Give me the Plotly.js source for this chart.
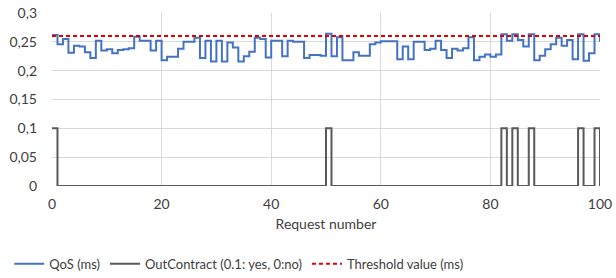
<!DOCTYPE html>
<html>
<head>
<meta charset="utf-8">
<script src="https://cdn.plot.ly/plotly-3.0.1.min.js"></script>
<style>
html,body{margin:0;padding:0;background:#fff;}
#chart{width:616px;height:278px;}
</style>
</head>
<body>
<div id="chart"></div>
<script>
// Request numbers 0..100 (value at k holds on [k, k+1])
const requests = Array.from({length: 101}, (_, i) => i);

const qos = [
  0.262, 0.246, 0.255, 0.231, 0.243, 0.242, 0.232, 0.222, 0.252, 0.235,
  0.237, 0.230, 0.236, 0.237, 0.239, 0.259, 0.252, 0.252, 0.235, 0.252,
  0.218, 0.224, 0.224, 0.238, 0.250, 0.250, 0.257, 0.222, 0.252, 0.216,
  0.252, 0.216, 0.249, 0.240, 0.216, 0.225, 0.233, 0.257, 0.255, 0.223,
  0.252, 0.252, 0.225, 0.252, 0.250, 0.250, 0.222, 0.227, 0.227, 0.226,
  0.264, 0.225, 0.258, 0.218, 0.218, 0.232, 0.226, 0.226, 0.246, 0.249,
  0.251, 0.251, 0.251, 0.220, 0.242, 0.220, 0.250, 0.250, 0.236, 0.238,
  0.252, 0.236, 0.222, 0.238, 0.235, 0.239, 0.258, 0.218, 0.224, 0.228,
  0.224, 0.228, 0.263, 0.252, 0.263, 0.253, 0.242, 0.263, 0.218, 0.226,
  0.237, 0.246, 0.257, 0.243, 0.253, 0.220, 0.263, 0.217, 0.230, 0.263,
  0.250
];

const outContract = [
  0.1, 0, 0, 0, 0, 0, 0, 0, 0, 0,
  0, 0, 0, 0, 0, 0, 0, 0, 0, 0,
  0, 0, 0, 0, 0, 0, 0, 0, 0, 0,
  0, 0, 0, 0, 0, 0, 0, 0, 0, 0,
  0, 0, 0, 0, 0, 0, 0, 0, 0, 0,
  0.1, 0, 0, 0, 0, 0, 0, 0, 0, 0,
  0, 0, 0, 0, 0, 0, 0, 0, 0, 0,
  0, 0, 0, 0, 0, 0, 0, 0, 0, 0,
  0, 0, 0.1, 0, 0.1, 0, 0, 0.1, 0, 0,
  0, 0, 0, 0, 0, 0, 0.1, 0, 0, 0.1,
  0
];

const thresholdValue = 0.26;
const thresholdX = [0, 100];
const thresholdY = [thresholdValue, thresholdValue];

const seriesNames = ['QoS (ms)', 'OutContract (0.1: yes, 0:no)', 'Threshold value (ms)'];

const traces = [
  {x: requests, y: qos, name: seriesNames[0], type: 'scatter', mode: 'lines',
   line: {shape: 'hv', color: '#4472C4', width: 2}},
  {x: requests, y: outContract, name: seriesNames[1], type: 'scatter', mode: 'lines',
   line: {shape: 'hv', color: '#595959', width: 2}},
  {x: thresholdX, y: thresholdY, name: seriesNames[2], type: 'scatter', mode: 'lines',
   line: {color: '#E00000', width: 2, dash: '4px,3px'}}
];

const font = 'Lato, "Open Sans", sans-serif';

const layout = {
  width: 616, height: 278,
  margin: {l: 52, r: 16, t: 13, b: 92, autoexpand: false},
  paper_bgcolor: '#ffffff', plot_bgcolor: '#ffffff',
  separators: ', ',
  font: {family: font, size: 14, color: '#404040'},
  showlegend: true,
  legend: {orientation: 'h', x: -0.078, xanchor: 'left', y: -0.45, yanchor: 'middle',
           font: {family: font, size: 13, color: '#404040'}, itemwidth: 30,
           tracegroupgap: 0, bgcolor: 'rgba(0,0,0,0)'},
  xaxis: {range: [0, 100], dtick: 20, tick0: 0, showgrid: true, gridcolor: '#d9d9d9', gridwidth: 1,
          zeroline: false, showline: false, ticks: '', fixedrange: true, ticklabelstandoff: 8,
          automargin: false,
          tickfont: {family: font, size: 14, color: '#404040'},
          title: {text: 'Request number', font: {family: font, size: 14, color: '#404040'}, standoff: 8}},
  yaxis: {range: [0, 0.3], dtick: 0.05, tick0: 0, showgrid: true, gridcolor: '#d9d9d9', gridwidth: 1,
          zeroline: false, showline: false, ticks: '', fixedrange: true, ticklabelstandoff: 14,
          automargin: false,
          tickfont: {family: font, size: 14, color: '#404040'}}
};

function draw() {
  Plotly.newPlot('chart', traces, layout, {displayModeBar: false, staticPlot: true});
}
if (document.fonts && document.fonts.load) {
  Promise.all([document.fonts.load('14px Lato'), document.fonts.load('13px Lato')]).then(draw, draw);
} else {
  draw();
}
</script>
</body>
</html>
